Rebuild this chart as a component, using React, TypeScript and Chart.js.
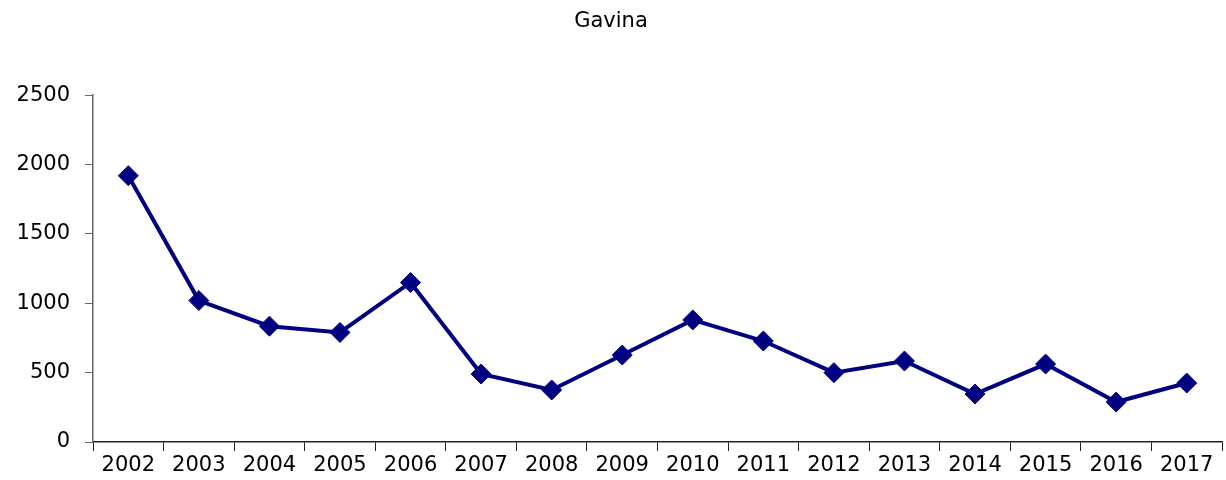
import React, { useEffect, useRef } from "react";
import { Chart, registerables } from "chart.js";

Chart.register(...registerables);

const TITLE = "Gavina";
const YEARS = ["2002","2003","2004","2005","2006","2007","2008","2009","2010","2011","2012","2013","2014","2015","2016","2017"];
const VALUES = [1920, 1020, 835, 790, 1150, 490, 375, 627, 880, 728, 500, 584, 346, 562, 288, 425];
const Y_MIN = 0;
const Y_MAX = 2500;
const Y_STEP = 500;

export default function App() {
  const ref = useRef<HTMLCanvasElement | null>(null);
  useEffect(() => {
    if (!ref.current) return;
    const chart = new Chart(ref.current, {
      type: "line",
      data: {
        labels: YEARS,
        datasets: [
          {
            data: VALUES,
            borderColor: "#000080",
            backgroundColor: "#000080",
            borderWidth: 4,
            pointStyle: "rectRot",
            pointRadius: 10,
            pointBorderWidth: 1,
            pointBackgroundColor: "#000080",
            pointBorderColor: "#000080",
            tension: 0,
          },
        ],
      },
      options: {
        responsive: false,
        animation: false,
        layout: { autoPadding: false, padding: { left: 0, right: 4, top: 0, bottom: 0 } },
        plugins: {
          legend: { display: false },
          tooltip: { enabled: false },
          title: {
            display: true,
            text: TITLE,
            color: "#000",
            font: { family: "DejaVu Sans", size: 21, weight: "normal" },
            padding: { top: 9, bottom: 61 },
          },
        },
        scales: {
          x: {
            type: "category",
            offset: true,
            grid: {
              display: true,
              offset: true,
              drawOnChartArea: false,
              drawTicks: true,
              tickLength: 9,
              color: "#222",
            },
            border: { display: true, color: "#222", width: 1.5 },
            ticks: {
              color: "#000",
              font: { family: "DejaVu Sans", size: 21 },
              padding: 2,
              maxRotation: 0,
              autoSkip: false,
            },
            afterFit: (s: any) => { s.height = 38; },
          },
          y: {
            min: Y_MIN,
            max: Y_MAX,
            grid: {
              display: true,
              drawOnChartArea: false,
              drawTicks: true,
              tickLength: 8,
              color: "#666",
            },
            border: { display: true, color: "#666", width: 1.5 },
            ticks: {
              stepSize: Y_STEP,
              color: "#000",
              font: { family: "DejaVu Sans", size: 21 },
              padding: 15,
              callback: (v: any) => String(v),
            },
            afterFit: (s: any) => { s.width = 93; },
          },
        },
      },
    });
    return () => chart.destroy();
  }, []);
  return (
    <div style={{ position: "absolute", left: 0, top: 0, width: 1226, height: 480, background: "#fff" }}>
      <canvas ref={ref} width={1226} height={480} />
    </div>
  );
}
